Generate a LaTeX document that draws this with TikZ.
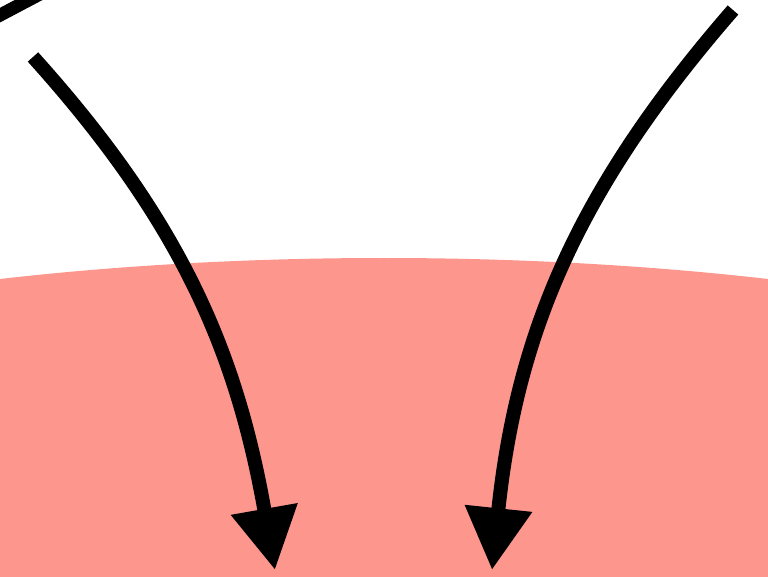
\documentclass[tikz,border=0pt]{standalone}
\usetikzlibrary{arrows.meta}
\definecolor{blob}{RGB}{253,150,141}
\tikzset{
  flow/.style={line width=14pt,-{Triangle[length=62pt,width=64pt]}},
  stub/.style={line width=13pt}
}
\begin{document}
\begin{tikzpicture}[x=1pt,y=-1pt]
  \useasboundingbox (0,0) rectangle (768,577);
  \clip (0,0) rectangle (768,577);
  % region
  \fill[blob] (384,533) ellipse [x radius=1000, y radius=275];
  % ends of the arrows
  \coordinate (l0) at (33,57);
  \coordinate (l1) at (275,570);
  \coordinate (r0) at (733,10);
  \coordinate (r1) at (492,570);
  \coordinate (s0) at (-30,31);
  \coordinate (s1) at (40,-6);
  \draw[stub] (s0) -- (s1);
  \draw[flow] (l0) to[out=-48,in=100] (l1);
  \draw[flow] (r0) to[out=-131,in=84] (r1);
\end{tikzpicture}
\end{document}
